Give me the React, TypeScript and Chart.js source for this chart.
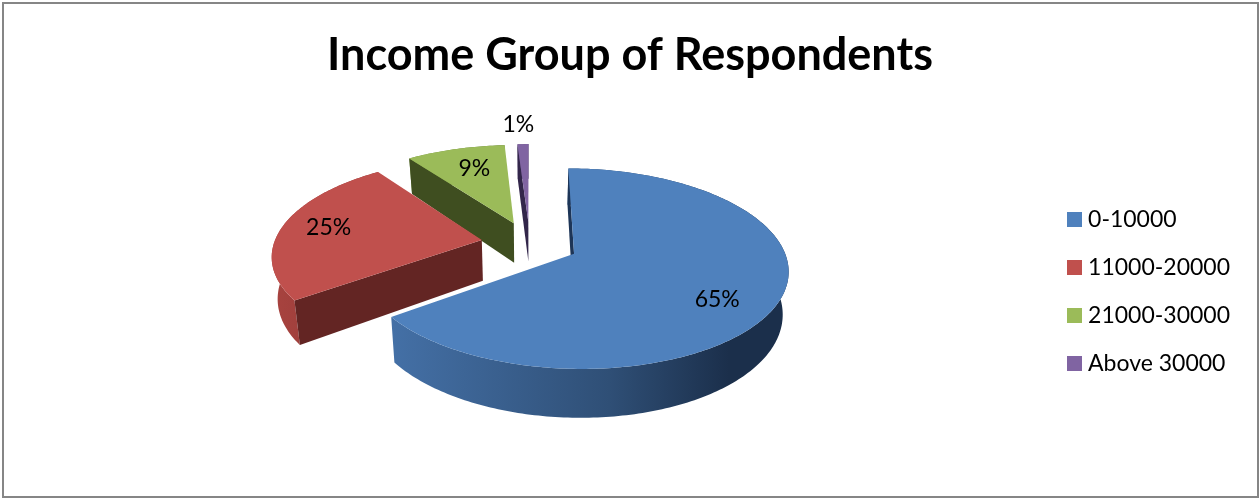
import React, { useEffect, useRef } from "react";
import { Chart, registerables } from "chart.js";

Chart.register(...registerables);

// Chart content
const titleText = "Income Group of Respondents";
const categories = ["0-10000", "11000-20000", "21000-30000", "Above 30000"];
const shares = [65, 25, 9, 1];
const explodeOffsets = [120, 120, 120, 120];

// Slice colours
const topColors = ["#4f81bd", "#c0504d", "#9bbb59", "#8064a2"];
const faceColors = ["#1d3557", "#632523", "#3f4e20", "#32264a"];
const wallStops = [
  ["#4470a6", "#2f4f76", "#1b2f4b"],
  ["#a8433f", "#9a3d3a", "#8a3532"],
  ["#7d9947", "#6d863e", "#5f7536"],
  ["#65507f", "#5a4772", "#4f3e66"],
];

// Value-label placement, in disc radii from each slice's own centre
const labelDx = [0.62, -0.76, -0.222, -0.06];
const labelDy = [0.44, -0.134, -0.671, -1.3];

// Perspective of the tilted disc; the lower rim is slightly narrower than the upper one
const VIEW = { scaleX: 1.63, scaleY: 0.745, perspective: 0.146, depth: 41, rimShrink: 0.023, shiftX: -4, shiftY: -48 };

function makeProjector(arc: any) {
  const R = arc.outerRadius;
  const cx = arc.x + VIEW.shiftX;
  const cy = arc.y + VIEW.shiftY;
  return (X: number, Y: number, z = 0) => {
    const s = 1 / (1 - VIEW.perspective * Y);
    return {
      x: cx + VIEW.scaleX * R * X * s * (1 - VIEW.rimShrink * z),
      y: cy + VIEW.scaleY * R * Y * s + z * VIEW.depth * s,
    };
  };
}

function sliceCentre(arc: any) {
  const mid = (arc.startAngle + arc.endAngle) / 2;
  const shift = (arc.options.offset || 0) / 4 / arc.outerRadius;
  return { X: Math.cos(mid) * shift, Y: Math.sin(mid) * shift };
}

function tracePolygon(ctx: CanvasRenderingContext2D, pts: { x: number; y: number }[]) {
  ctx.beginPath();
  pts.forEach((p, i) => (i ? ctx.lineTo(p.x, p.y) : ctx.moveTo(p.x, p.y)));
  ctx.closePath();
}

function paintSlice(ctx: CanvasRenderingContext2D, arc: any, index: number) {
  const project = makeProjector(arc);
  const c = sliceCentre(arc);
  const steps = Math.max(2, Math.ceil((arc.endAngle - arc.startAngle) / (Math.PI / 180)));
  const rim: { X: number; Y: number }[] = [];
  for (let i = 0; i <= steps; i++) {
    const a = arc.startAngle + ((arc.endAngle - arc.startAngle) * i) / steps;
    rim.push({ X: c.X + Math.cos(a), Y: c.Y + Math.sin(a) });
  }
  const first = rim[0];
  const last = rim[rim.length - 1];

  // Curved outer wall
  const topEdge = rim.map((p) => project(p.X, p.Y));
  const bottomEdge = rim.map((p) => project(p.X, p.Y, 1)).reverse();
  const xs = topEdge.map((p) => p.x);
  const gradient = ctx.createLinearGradient(Math.min(...xs), 0, Math.max(...xs), 0);
  gradient.addColorStop(0, wallStops[index][0]);
  gradient.addColorStop(0.55, wallStops[index][1]);
  gradient.addColorStop(0.85, wallStops[index][2]);
  gradient.addColorStop(1, wallStops[index][2]);
  ctx.fillStyle = gradient;
  tracePolygon(ctx, [...topEdge, ...bottomEdge]);
  ctx.fill();

  // Straight cut faces, only those turned towards the viewer
  ctx.fillStyle = faceColors[index];
  const visibleEdges = [];
  if (-Math.cos(arc.startAngle) >= -0.01) visibleEdges.push(first);
  if (Math.cos(arc.endAngle) > 0.01) visibleEdges.push(last);
  for (const edge of visibleEdges) {
    tracePolygon(ctx, [project(c.X, c.Y), project(edge.X, edge.Y), project(edge.X, edge.Y, 1), project(c.X, c.Y, 1)]);
    ctx.fill();
  }

  // Upper surface
  ctx.fillStyle = topColors[index];
  tracePolygon(ctx, [project(c.X, c.Y), ...topEdge]);
  ctx.fill();
}

const tiltedPie = {
  id: "tiltedPie",
  beforeDraw(chart: any) {
    const { ctx, width, height } = chart;
    ctx.save();
    ctx.strokeStyle = "#868686";
    ctx.lineWidth = 2;
    ctx.strokeRect(3, 3, width - 5, height - 5);
    ctx.restore();
  },
  beforeDatasetDraw(chart: any, args: any) {
    const { ctx } = chart;
    const arcs = args.meta.data;
    ctx.save();
    for (let i = arcs.length - 1; i >= 0; i--) paintSlice(ctx, arcs[i], i);
    ctx.restore();
    return false;
  },
  afterDatasetsDraw(chart: any) {
    const { ctx } = chart;
    const arcs = chart.getDatasetMeta(0).data;
    ctx.save();
    ctx.fillStyle = "#000000";
    ctx.font = "23px Lato";
    ctx.textAlign = "center";
    ctx.textBaseline = "middle";
    arcs.forEach((arc: any, i: number) => {
      const c = sliceCentre(arc);
      const p = makeProjector(arc)(c.X + labelDx[i], c.Y + labelDy[i]);
      ctx.fillText(`${shares[i]}%`, p.x, p.y);
    });
    ctx.restore();
  },
};

function legendSwatch(color: string) {
  const swatch = document.createElement("canvas");
  swatch.width = 15;
  swatch.height = 15;
  const g = swatch.getContext("2d")!;
  g.fillStyle = color;
  g.fillRect(0, 0, 15, 15);
  return swatch;
}

export default function App() {
  const canvasRef = useRef<HTMLCanvasElement>(null);

  useEffect(() => {
    const chart = new Chart(canvasRef.current!, {
      type: "pie",
      data: {
        labels: categories,
        datasets: [
          {
            data: shares,
            backgroundColor: topColors,
            borderWidth: 0,
            offset: explodeOffsets,
          },
        ],
      },
      options: {
        responsive: false,
        animation: false,
        layout: { padding: { left: 20, right: 20, bottom: 20 } },
        plugins: {
          title: {
            display: true,
            text: titleText,
            color: "#000000",
            font: { family: "Lato", size: 45, weight: "bold" },
            padding: { top: 28, bottom: 22 },
          },
          legend: {
            position: "right",
            fullSize: false,
            labels: {
              color: "#000000",
              font: { family: "Lato", size: 23 },
              usePointStyle: true,
              boxHeight: 15,
              pointStyleWidth: 4,
              padding: 24.9,
              generateLabels(c: any) {
                const items = (Chart as any).overrides.pie.plugins.legend.labels.generateLabels(c);
                return items.map((item: any, i: number) => ({ ...item, pointStyle: legendSwatch(topColors[i]) }));
              },
            },
          },
          tooltip: { enabled: false },
        },
      },
      plugins: [tiltedPie],
    } as any);
    return () => chart.destroy();
  }, []);

  return (
    <div style={{ position: "absolute", left: 0, top: 0 }}>
      <canvas ref={canvasRef} width={1260} height={499} style={{ display: "block" }} />
    </div>
  );
}
